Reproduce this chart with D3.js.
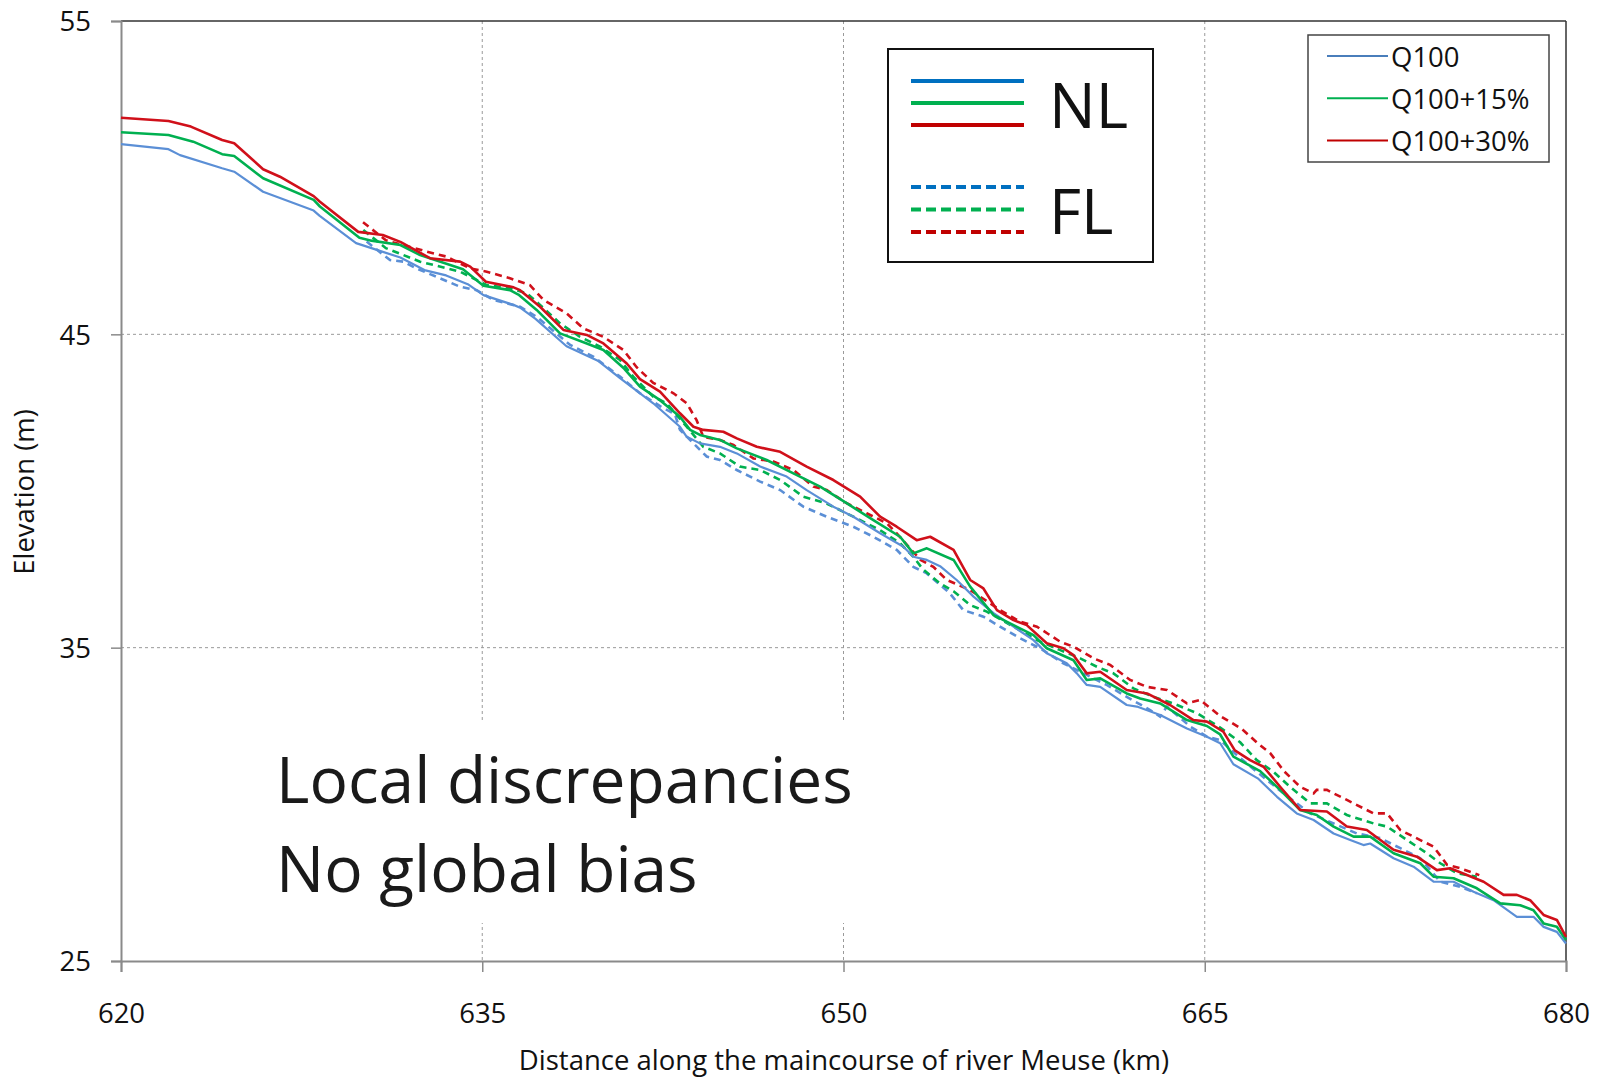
<!DOCTYPE html>
<html><head><meta charset="utf-8">
<script src="https://cdn.jsdelivr.net/npm/d3@7"></script>
<style>html,body{margin:0;padding:0;background:#fff;}svg{display:block;}</style>
</head><body>
<svg id="chart" width="1604" height="1079"></svg>
<script>
// ---- Data (km, elevation m) ----
const xTicks = [620, 635, 650, 665, 680];
const yTicks = [25, 35, 45, 55];
const seriesNames = ["Q100", "Q100+15%", "Q100+30%"];

const nlQ100 = [[620,51.07],[621.97,50.91],[622.45,50.72],[624.2,50.3],[624.7,50.19],[625.9,49.55],[628.0,48.95],[628.25,48.78],[629.76,47.91],[630.4,47.75],[631.6,47.45],[632.6,47.05],[633.5,46.88],[634.4,46.6],[635.05,46.25],[636.3,45.94],[636.6,45.84],[637.2,45.5],[638.5,44.62],[639.8,44.16],[640.72,43.6],[642.1,42.8],[643.21,42.05],[643.49,41.73],[644.04,41.52],[644.87,41.41],[645.57,41.2],[646.54,40.78],[647.64,40.46],[648.47,40.03],[649.58,39.5],[650.41,39.18],[651.52,38.65],[652.49,38.22],[652.9,37.9],[653.46,37.8],[654.01,37.6],[654.7,37.16],[655.4,36.63],[656.23,36.1],[657.06,35.67],[657.89,35.24],[658.44,34.82],[659.27,34.5],[659.69,34.18],[660.1,33.81],[660.66,33.75],[661.76,33.17],[662.18,33.12],[663.15,32.85],[664.26,32.42],[665.09,32.16],[665.64,31.95],[666.19,31.28],[667.2,30.83],[668.0,30.24],[668.82,29.71],[669.52,29.5],[670.35,29.07],[671.04,28.86],[671.59,28.7],[671.87,28.75],[672.84,28.28],[673.67,28.01],[674.5,27.53],[675.33,27.53],[676.16,27.21],[676.99,26.94],[677.96,26.41],[678.65,26.41],[679.07,26.09],[679.62,25.93],[680,25.56]];

const nlQ115 = [[620,51.45],[621.97,51.36],[623.0,51.15],[624.2,50.75],[624.7,50.69],[625.9,49.98],[628.0,49.29],[628.26,49.08],[629.9,48.08],[630.4,47.99],[631.6,47.85],[632.42,47.53],[634.2,47.08],[635.05,46.55],[636.15,46.41],[636.5,46.27],[637.26,45.78],[638.23,45.03],[639.34,44.71],[640.03,44.5],[640.9,43.9],[641.55,43.33],[642.38,42.9],[643.21,42.37],[643.63,41.95],[644.04,41.79],[644.87,41.63],[645.57,41.36],[646.81,40.99],[647.92,40.56],[649.03,40.14],[650.13,39.61],[651.24,39.07],[652.35,38.54],[652.9,38.01],[653.46,38.17],[654.57,37.8],[655.26,36.95],[656.23,36.04],[657.06,35.72],[657.89,35.4],[658.44,34.98],[659.55,34.6],[660.1,33.97],[660.66,34.02],[661.76,33.54],[662.32,33.38],[663.15,33.22],[664.26,32.69],[665.09,32.5],[665.64,32.23],[666.19,31.52],[667.3,31.06],[668.13,30.46],[668.96,29.82],[669.65,29.66],[670.35,29.29],[671.18,28.97],[671.87,28.97],[672.84,28.44],[673.95,28.12],[674.5,27.69],[675.33,27.64],[676.3,27.32],[677.27,26.84],[678.1,26.78],[678.65,26.62],[679.07,26.2],[679.62,26.09],[680,25.67]];

const nlQ130 = [[620,51.91],[621.97,51.81],[622.9,51.63],[624.2,51.2],[624.7,51.1],[625.9,50.27],[626.6,50.03],[628.0,49.41],[628.26,49.23],[629.85,48.27],[630.87,48.17],[631.6,47.95],[632.83,47.43],[634.08,47.32],[634.5,47.16],[635.15,46.68],[636.3,46.5],[636.57,46.41],[637.4,45.88],[638.37,45.14],[639.34,44.98],[640.03,44.71],[641.0,44.07],[641.55,43.57],[642.38,43.17],[643.21,42.48],[643.77,42.05],[644.18,41.95],[645.01,41.89],[645.57,41.68],[646.4,41.41],[647.37,41.25],[648.47,40.78],[649.58,40.35],[650.69,39.82],[651.52,39.18],[652.21,38.86],[653.04,38.43],[653.6,38.54],[654.57,38.12],[655.26,37.16],[655.81,36.89],[656.37,36.2],[657.06,35.88],[657.61,35.72],[658.44,35.14],[659.13,34.98],[659.55,34.76],[660.1,34.18],[660.66,34.23],[661.76,33.65],[662.6,33.54],[663.56,33.17],[664.53,32.69],[665.09,32.64],[665.22,32.58],[665.77,32.32],[666.25,31.72],[666.88,31.41],[667.44,31.2],[668.13,30.56],[668.96,29.82],[670.07,29.77],[670.9,29.29],[671.73,29.18],[672.84,28.55],[673.81,28.33],[674.64,27.9],[675.19,27.96],[676.58,27.53],[677.41,27.11],[677.96,27.11],[678.51,26.94],[679.07,26.47],[679.62,26.31],[680,25.77]];

const flQ100 = [[630.2,47.96],[631.17,47.37],[631.72,47.32],[632.28,47.1],[634.08,46.52],[634.77,46.41],[635.46,46.1],[636.57,45.88],[637.26,45.56],[638.65,44.66],[639.61,44.29],[640.72,43.65],[641.55,43.12],[642.4,42.7],[643.0,42.45],[643.21,41.95],[644.32,41.1],[644.87,40.99],[645.57,40.67],[646.54,40.3],[647.37,40.03],[648.33,39.5],[649.3,39.18],[650.41,38.86],[651.24,38.54],[652.21,38.12],[652.9,37.58],[653.46,37.37],[654.4,36.75],[654.97,36.2],[655.81,35.99],[656.5,35.67],[657.33,35.3],[658.16,34.98],[659.13,34.5],[660.1,34.13],[660.93,33.81],[661.76,33.43],[662.73,33.01],[663.15,32.8],[663.43,33.12],[664.4,32.48],[665.09,32.16],[665.64,32.05],[666.33,31.57],[667.16,31.04],[668.27,30.35],[669.38,29.71],[670.35,29.39],[671.32,29.07],[672.29,28.92],[673.12,28.6],[673.95,28.28],[674.78,27.53],[675.6,27.37],[676.3,27.16]];

const flQ115 = [[630.06,48.33],[631.0,47.75],[632.42,47.32],[634.08,47.0],[635.19,46.57],[636.15,46.47],[636.85,46.31],[637.4,45.94],[638.23,45.35],[639.06,44.92],[639.89,44.61],[640.72,44.18],[641.27,43.65],[642.1,43.01],[642.66,42.8],[643.49,42.05],[644.18,41.41],[644.87,41.2],[645.7,40.78],[646.54,40.67],[647.37,40.35],[648.33,39.82],[649.3,39.6],[650.41,39.18],[651.52,38.75],[652.35,38.33],[652.9,37.9],[653.3,37.5],[654.01,37.05],[654.57,36.8],[655.26,36.36],[655.95,36.15],[657.06,35.67],[658.03,35.24],[659.0,34.92],[659.83,34.66],[660.52,34.39],[661.21,34.18],[662.04,33.7],[662.87,33.43],[663.7,33.22],[664.7,32.9],[665.64,32.45],[666.47,31.98],[667.16,31.41],[667.85,31.04],[668.54,30.56],[669.38,30.03],[670.07,30.03],[670.9,29.66],[672.01,29.39],[672.57,29.29],[673.4,28.86],[674.22,28.44],[674.78,28.12],[675.47,27.8],[676.3,27.69]];

const flQ130 = [[630.05,48.58],[631.0,48.0],[632.7,47.64],[633.52,47.48],[634.5,47.1],[635.19,47.0],[636.15,46.79],[636.98,46.57],[637.54,46.1],[638.5,45.67],[639.2,45.19],[640.03,44.92],[640.86,44.5],[641.41,43.95],[642.1,43.45],[642.94,43.12],[643.49,42.8],[643.9,42.26],[644.18,41.73],[644.87,41.63],[645.43,41.47],[646.26,41.04],[647.09,40.94],[647.92,40.67],[648.75,40.14],[649.3,40.03],[650.13,39.61],[650.96,39.29],[651.8,38.97],[652.21,38.65],[652.76,38.17],[653.2,37.8],[653.73,37.58],[654.29,37.16],[655.26,36.84],[656.5,36.2],[657.33,35.83],[658.03,35.67],[659.0,35.19],[659.55,35.03],[660.38,34.66],[661.07,34.45],[661.9,33.97],[662.6,33.75],[663.43,33.65],[664.26,33.22],[664.81,33.33],[665.64,32.82],[666.55,32.4],[667.2,31.95],[667.72,31.63],[668.3,31.05],[668.96,30.56],[669.52,30.35],[669.65,30.46],[670.07,30.46],[670.9,30.14],[672.01,29.71],[672.57,29.71],[673.12,29.18],[673.95,28.86],[674.5,28.65],[675.06,28.07],[675.6,27.96],[676.4,27.74]];

// ---- Layout ----
const svg = d3.select("#chart");
const FONT = "'Open Sans', 'DejaVu Sans', sans-serif";
const pLeft = 121, pRight = 1566, pTop = 21, pBottom = 961;
const x = d3.scaleLinear().domain([620, 680]).range([pLeft, pRight]);
const y = d3.scaleLinear().domain([25, 55]).range([pBottom, pTop]);

const colBlue = "#5b8fd6", colGreen = "#00b050", colRed = "#d0101a";

// gridlines
svg.append("g").selectAll("line").data(yTicks.filter(d => d > 25 && d < 55)).join("line")
  .attr("x1", pLeft).attr("x2", pRight).attr("y1", d => y(d)).attr("y2", d => y(d))
  .attr("stroke", "#9a9a9a").attr("stroke-width", 1).attr("stroke-dasharray", "3,3");
svg.append("g").selectAll("line").data(xTicks.filter(d => d > 620 && d < 680)).join("line")
  .attr("y1", pTop).attr("y2", pBottom).attr("x1", d => x(d)).attr("x2", d => x(d))
  .attr("stroke", "#9a9a9a").attr("stroke-width", 1).attr("stroke-dasharray", "3,3");

// white box behind annotation text
svg.append("rect").attr("x", 250).attr("y", 722).attr("width", 620).attr("height", 201).attr("fill", "#fff");

// plot border (top/right)
svg.append("line").attr("x1", pLeft).attr("x2", pRight).attr("y1", pTop).attr("y2", pTop).attr("stroke", "#333").attr("stroke-width", 1.5);
svg.append("line").attr("x1", pRight).attr("x2", pRight).attr("y1", pTop).attr("y2", pBottom).attr("stroke", "#333").attr("stroke-width", 1.5);

// axes
const yAxis = d3.axisLeft(y).tickValues(yTicks).tickSize(10).tickPadding(20);
const xAxis = d3.axisBottom(x).tickValues(xTicks).tickSize(11).tickPadding(31);
const gy = svg.append("g").attr("transform", `translate(${pLeft},0)`).call(yAxis);
const gx = svg.append("g").attr("transform", `translate(0,${pBottom})`).call(xAxis);
[gx, gy].forEach(g => {
  g.select(".domain").attr("stroke", "#8a8a8a").attr("stroke-width", 2);
  g.selectAll(".tick line").attr("stroke", "#8a8a8a").attr("stroke-width", 1.5);
  g.selectAll(".tick text").attr("font-family", FONT).attr("font-size", 27.5).attr("fill", "#111");
});
gy.selectAll(".tick text").attr("dy", "0.36em");

// axis titles
svg.append("text").attr("x", 844).attr("y", 1070).attr("text-anchor", "middle")
  .attr("font-family", FONT).attr("font-size", 27.5).attr("fill", "#111")
  .text("Distance along the maincourse of river Meuse (km)");
svg.append("text").attr("transform", "translate(34,492) rotate(-90)").attr("text-anchor", "middle")
  .attr("font-family", FONT).attr("font-size", 27.5).attr("fill", "#111")
  .text("Elevation (m)");

// annotation
svg.append("text").attr("x", 276).attr("y", 803).attr("font-family", FONT).attr("font-size", 64).attr("fill", "#1a1a1a").text("Local discrepancies");
svg.append("text").attr("x", 276).attr("y", 892).attr("font-family", FONT).attr("font-size", 64).attr("fill", "#1a1a1a").text("No global bias");

// data lines
const line = d3.line().x(d => x(d[0])).y(d => y(d[1]));
const fl = [[flQ100, colBlue], [flQ115, colGreen], [flQ130, colRed]];
const nl = [[nlQ100, colBlue, 2.2], [nlQ115, colGreen, 2.6], [nlQ130, colRed, 2.6]];
svg.append("g").selectAll("path").data(fl).join("path")
  .attr("d", d => line(d[0])).attr("fill", "none").attr("stroke", d => d[1])
  .attr("stroke-width", 2.6).attr("stroke-dasharray", "7,5");
svg.append("g").selectAll("path").data(nl).join("path")
  .attr("d", d => line(d[0])).attr("fill", "none").attr("stroke", d => d[1])
  .attr("stroke-width", d => d[2]).attr("stroke-linejoin", "round");

// legend 1 (NL / FL)
const lg1 = svg.append("g");
lg1.append("rect").attr("x", 888).attr("y", 49).attr("width", 265).attr("height", 213)
  .attr("fill", "#fff").attr("stroke", "#111").attr("stroke-width", 2);
const legCols = ["#0070c0", "#00b050", "#c00000"];
lg1.selectAll(".nl").data(legCols).join("line").attr("class", "nl")
  .attr("x1", 911).attr("x2", 1024).attr("y1", (d, i) => 81 + i * 22).attr("y2", (d, i) => 81 + i * 22)
  .attr("stroke", d => d).attr("stroke-width", 4);
lg1.selectAll(".fl").data(legCols).join("line").attr("class", "fl")
  .attr("x1", 911).attr("x2", 1024).attr("y1", (d, i) => 187 + i * 22.5).attr("y2", (d, i) => 187 + i * 22.5)
  .attr("stroke", d => d).attr("stroke-width", 4).attr("stroke-dasharray", "10,5");
lg1.append("text").attr("x", 1049).attr("y", 128).attr("font-family", FONT).attr("font-size", 62).attr("fill", "#111").text("NL");
lg1.append("text").attr("x", 1049).attr("y", 234).attr("font-family", FONT).attr("font-size", 62).attr("fill", "#111").text("FL");

// legend 2 (series)
const lg2 = svg.append("g");
lg2.append("rect").attr("x", 1308).attr("y", 35).attr("width", 241).attr("height", 127)
  .attr("fill", "#fff").attr("stroke", "#444").attr("stroke-width", 1.5);
const l2cols = ["#4a7ebb", "#00b050", "#c00000"];
seriesNames.forEach((name, i) => {
  const cy = 56 + i * 42.3;
  lg2.append("line").attr("x1", 1327).attr("x2", 1388).attr("y1", cy).attr("y2", cy)
    .attr("stroke", l2cols[i]).attr("stroke-width", 2);
  lg2.append("text").attr("x", 1391).attr("y", cy + 10.5).attr("font-family", FONT).attr("font-size", 27.5).attr("fill", "#111").text(name);
});
</script>
</body></html>
